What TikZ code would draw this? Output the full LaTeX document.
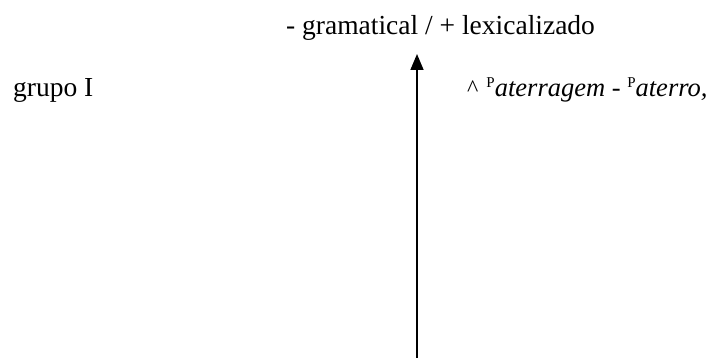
\documentclass[tikz,border=0pt]{standalone}
\usepackage{fontspec}
\setmainfont{Liberation Serif}
\usetikzlibrary{arrows.meta}
\newcommand{\supP}{\raisebox{9pt}{\fontsize{15pt}{17pt}\selectfont P}}
\tikzset{
  lbl/.style={inner sep=0pt, anchor=base west, font=\fontsize{27.5pt}{32pt}\selectfont},
  exlbl/.style={inner sep=0pt, anchor=base west, font=\fontsize{26.5pt}{30pt}\selectfont},
  axis/.style={line width=1.6pt, -{Triangle[length=16pt,width=13pt]}}
}
\begin{document}
\begin{tikzpicture}[x=1pt,y=1pt]
\useasboundingbox (0,0) rectangle (712,358);
\node[lbl] (top) at (286,323) {- gramatical / + lexicalizado};
\node[lbl] (grp) at (13,261) {grupo I};
\node[exlbl] (ex) at (467,261) {{\fontsize{24pt}{28pt}\selectfont\textasciicircum}\hspace{8pt}\supP\textit{aterragem} - \supP\textit{aterro,}};
\coordinate (bot) at (417,0);
\coordinate (tip) at (417,304);
\draw[axis] (bot) -- (tip);
\end{tikzpicture}
\end{document}
